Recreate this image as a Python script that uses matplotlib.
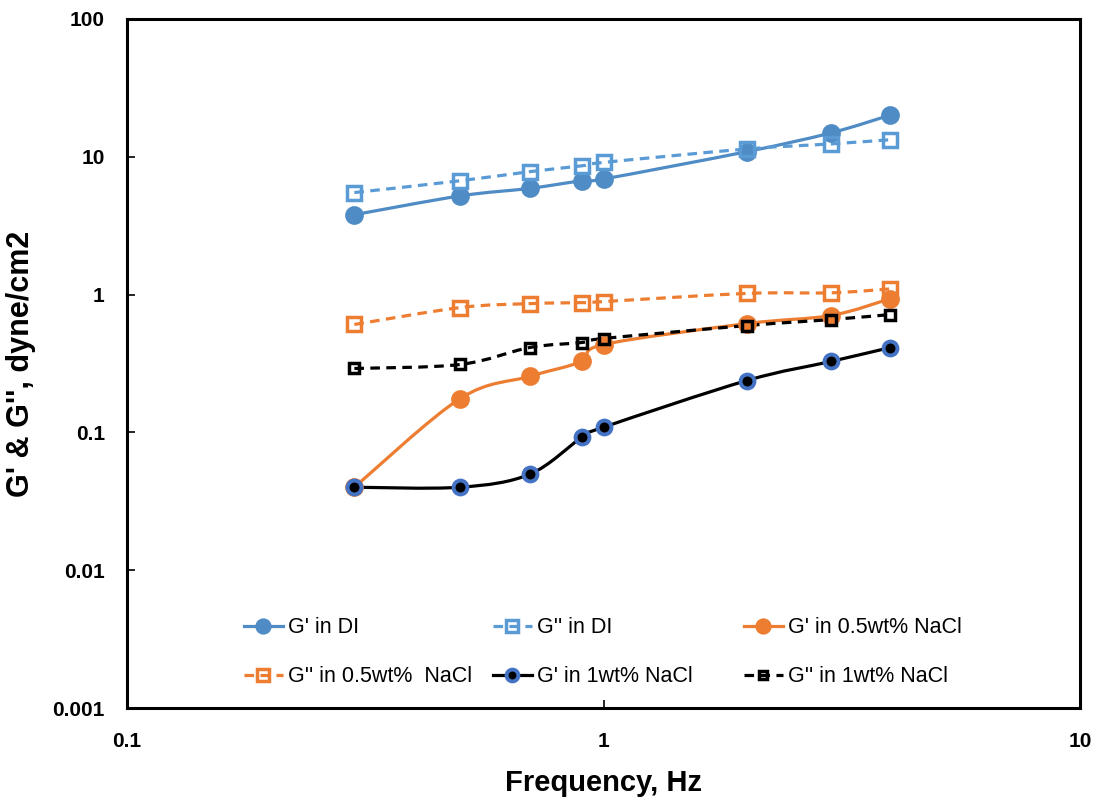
import numpy as np
import matplotlib
matplotlib.use("Agg")
import matplotlib.pyplot as plt
from matplotlib.path import Path
from matplotlib.patches import PathPatch
from matplotlib.lines import Line2D

# Frequencies (Hz)
freq = [0.3, 0.5, 0.7, 0.9, 1.0, 2.0, 3.0, 4.0]

# Moduli, dyne/cm2
g1_di = [3.8, 5.2, 5.9, 6.7, 6.9, 10.9, 14.9, 20.1]
g2_di = [5.5, 6.7, 7.8, 8.6, 9.1, 11.4, 12.4, 13.3]
g1_05 = [0.040, 0.176, 0.255, 0.327, 0.434, 0.616, 0.705, 0.935]
g2_05 = [0.607, 0.805, 0.86, 0.875, 0.89, 1.02, 1.03, 1.10]
g1_1 = [0.040, 0.040, 0.0497, 0.092, 0.109, 0.238, 0.327, 0.413]
g2_1 = [0.291, 0.311, 0.413, 0.449, 0.48, 0.596, 0.659, 0.716]

labels = ["G' in DI", "G'' in DI", "G' in 0.5wt% NaCl",
          "G'' in 0.5wt%  NaCl", "G' in 1wt% NaCl", "G'' in 1wt% NaCl"]

plt.rcParams["font.family"] = ["Liberation Sans", "DejaVu Sans"]


def smooth_path(x, y):
    # Catmull-Rom style bezier segments built in log-log space
    lx, ly = np.log10(x), np.log10(y)
    pts = np.column_stack([lx, ly])
    n = len(pts)
    verts = [pts[0]]
    codes = [Path.MOVETO]
    for i in range(n - 1):
        p0 = pts[i - 1] if i > 0 else pts[i]
        p1 = pts[i]
        p2 = pts[i + 1]
        p3 = pts[i + 2] if i + 2 < n else pts[i + 1]
        c1 = p1 + (p2 - p0) / 6.0
        c2 = p2 - (p3 - p1) / 6.0
        verts += [c1, c2, p2]
        codes += [Path.CURVE4] * 3
    verts = 10 ** np.array(verts)
    return Path(verts, codes)


fig = plt.figure(figsize=(10.99, 8.01), dpi=100)
ax = fig.add_axes([0.1156, 0.1161, 0.8671, 0.8602])
ax.set_xscale("log")
ax.set_yscale("log")
ax.set_xlim(0.1, 10)
ax.set_ylim(0.001, 100)

dash = (0, (3, 2))
series = [
    (g1_di, dict(color="#4F8BC4", ls="-", marker="o", ms=12, mfc="#4F8BC4", mec="#4F8BC4", mew=1.5)),
    (g2_di, dict(color="#5B9BD5", ls=dash, marker="s", ms=10, mfc="none", mec="#5B9BD5", mew=2.5)),
    (g1_05, dict(color="#ED7D31", ls="-", marker="o", ms=12, mfc="#ED7D31", mec="#ED7D31", mew=1.5)),
    (g2_05, dict(color="#ED7D31", ls=dash, marker="s", ms=10, mfc="none", mec="#ED7D31", mew=2.5)),
    (g1_1, dict(color="black", ls="-", marker="o", ms=10, mfc="black", mec="#4472C4", mew=2.8)),
    (g2_1, dict(color="black", ls=dash, marker="s", ms=7.5, mfc="none", mec="black", mew=2.5)),
]

handles = []
for (vals, st), lab in zip(series, labels):
    patch = PathPatch(smooth_path(freq, vals), facecolor="none", edgecolor=st["color"],
                      lw=2.3, linestyle=st["ls"], zorder=2)
    ax.add_patch(patch)
    ax.plot(freq, vals, ls="none", marker=st["marker"], ms=st["ms"], mfc=st["mfc"],
            mec=st["mec"], mew=st["mew"], zorder=3)
    handles.append(Line2D([], [], color=st["color"], lw=2.3, ls=st["ls"], marker=st["marker"],
                          ms=st["ms"] * 0.85, mfc=st["mfc"], mec=st["mec"], mew=st["mew"]))

for s in ax.spines.values():
    s.set_linewidth(2.2)
    s.set_color("black")

ax.tick_params(which="major", direction="in", length=6, width=1.2, labelsize=15)
ax.tick_params(axis="x", pad=17)
ax.tick_params(axis="y", pad=16)
ax.tick_params(which="minor", length=0)
ax.set_xticks([0.1, 1, 10])
ax.set_xticklabels(["0.1", "1", "10"])
ax.set_yticks([0.001, 0.01, 0.1, 1, 10, 100])
ax.set_yticklabels(["0.001", "0.01", "0.1", "1", "10", "100"])
for t in ax.get_xticklabels() + ax.get_yticklabels():
    t.set_fontweight("bold")

ax.set_xlabel("Frequency, Hz", fontsize=21, fontweight="bold", labelpad=13)
ax.set_ylabel("G' & G'', dyne/cm2", fontsize=22, fontweight="bold", labelpad=12)

# legend laid out row by row in three fixed-width columns
col_x = [0.1228, 0.3841, 0.6474]
for c in range(3):
    idx = [c, c + 3]
    leg = ax.legend([handles[i] for i in idx], [labels[i] for i in idx],
                    loc="center left", bbox_to_anchor=(col_x[c], 0.0806), frameon=False,
                    fontsize=15.5, handlelength=1.8, handletextpad=0.25, labelspacing=1.3,
                    borderpad=0, borderaxespad=0)
    if c < 2:
        ax.add_artist(leg)

fig.savefig("out.png", dpi=100)
